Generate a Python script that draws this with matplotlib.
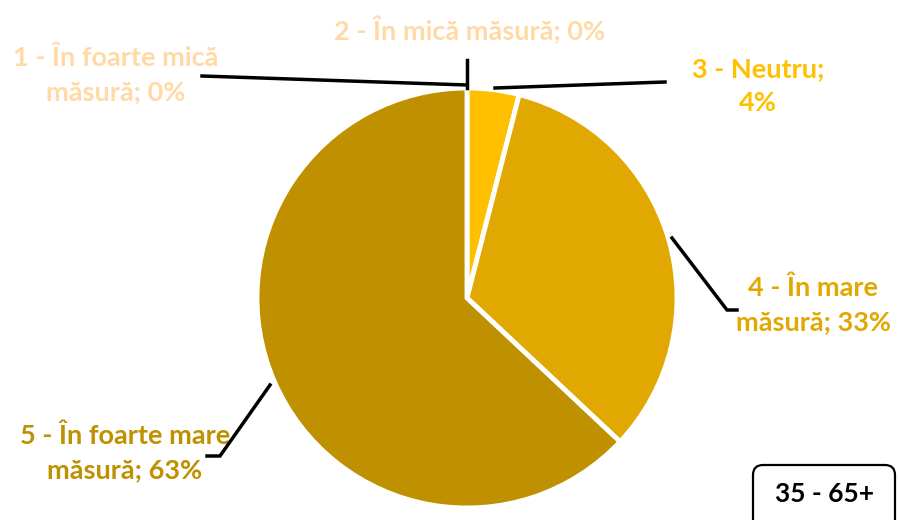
import matplotlib
matplotlib.use("Agg")
import matplotlib.pyplot as plt
from matplotlib.patches import FancyBboxPatch

# Response categories and their shares (%)
categories = ["1 - În foarte mică", "2 - În mică", "3 - Neutru;", "4 - În mare", "5 - În foarte mare"]
values = [0, 0, 4, 33, 63]
colors = ["#FFD9A6", "#FFD9A6", "#FFC000", "#E0A800", "#BF9000"]
group_label = "35 - 65+"

label_lines = [
    ("1 - În foarte mică", "măsură; {}%"),
    ("2 - În mică măsură; {}%", None),
    ("3 - Neutru;", "{}%"),
    ("4 - În mare", "măsură; {}%"),
    ("5 - În foarte mare", "măsură; {}%"),
]

plt.rcParams["font.family"] = ["Lato", "DejaVu Sans"]

W, H = 898, 520
fig = plt.figure(figsize=(W / 100, H / 100), dpi=100)
ax = fig.add_axes([0, 0, 1, 1])

# Pie in pixel-like coordinates (y axis grows downward)
cx, cy, r = 467, 298, 210
ax.pie(values, colors=colors, center=(cx, cy), radius=r,
       startangle=-90, counterclock=True,
       wedgeprops=dict(edgecolor="white", linewidth=3.5))

ax.set_xlim(0, W)
ax.set_ylim(H, 0)
ax.set_aspect("equal")
ax.axis("off")

fs = 19.5
# label anchor positions (centre of text block) and leader lines
label_pos = [(116, 75), (470, 30), (758, 86), (813, 305), (125, 453)]
leaders = [
    [(467, 85), (202, 76)],
    [(467, 88), (467, 60)],
    [(495, 88), (665, 82)],
    [(672, 238), (727, 310), (737, 310)],
    [(270, 385), (220, 456), (207, 456)],
]

for (l1, l2), v, c, (x, y), pts in zip(label_lines, values, colors, label_pos, leaders):
    if l2 is None:
        txt = l1.format(v)
    else:
        txt = l1 + "\n" + l2.format(v)
    ax.text(x, y, txt, ha="center", va="center", fontsize=fs, fontweight="bold",
            color=c, linespacing=1.5)
    xs, ys = zip(*pts)
    ax.plot(xs, ys, color="black", lw=2.5, solid_joinstyle="miter", zorder=5)

# group tag in the corner
box = FancyBboxPatch((753, 465), 142, 70, boxstyle="round,pad=0,rounding_size=10",
                     facecolor="white", edgecolor="black", linewidth=1.6, clip_on=True)
ax.add_patch(box)
ax.text(825, 494, group_label, ha="center", va="center", fontsize=19,
        fontweight="bold", color="black")

fig.savefig("out.png", dpi=100)
